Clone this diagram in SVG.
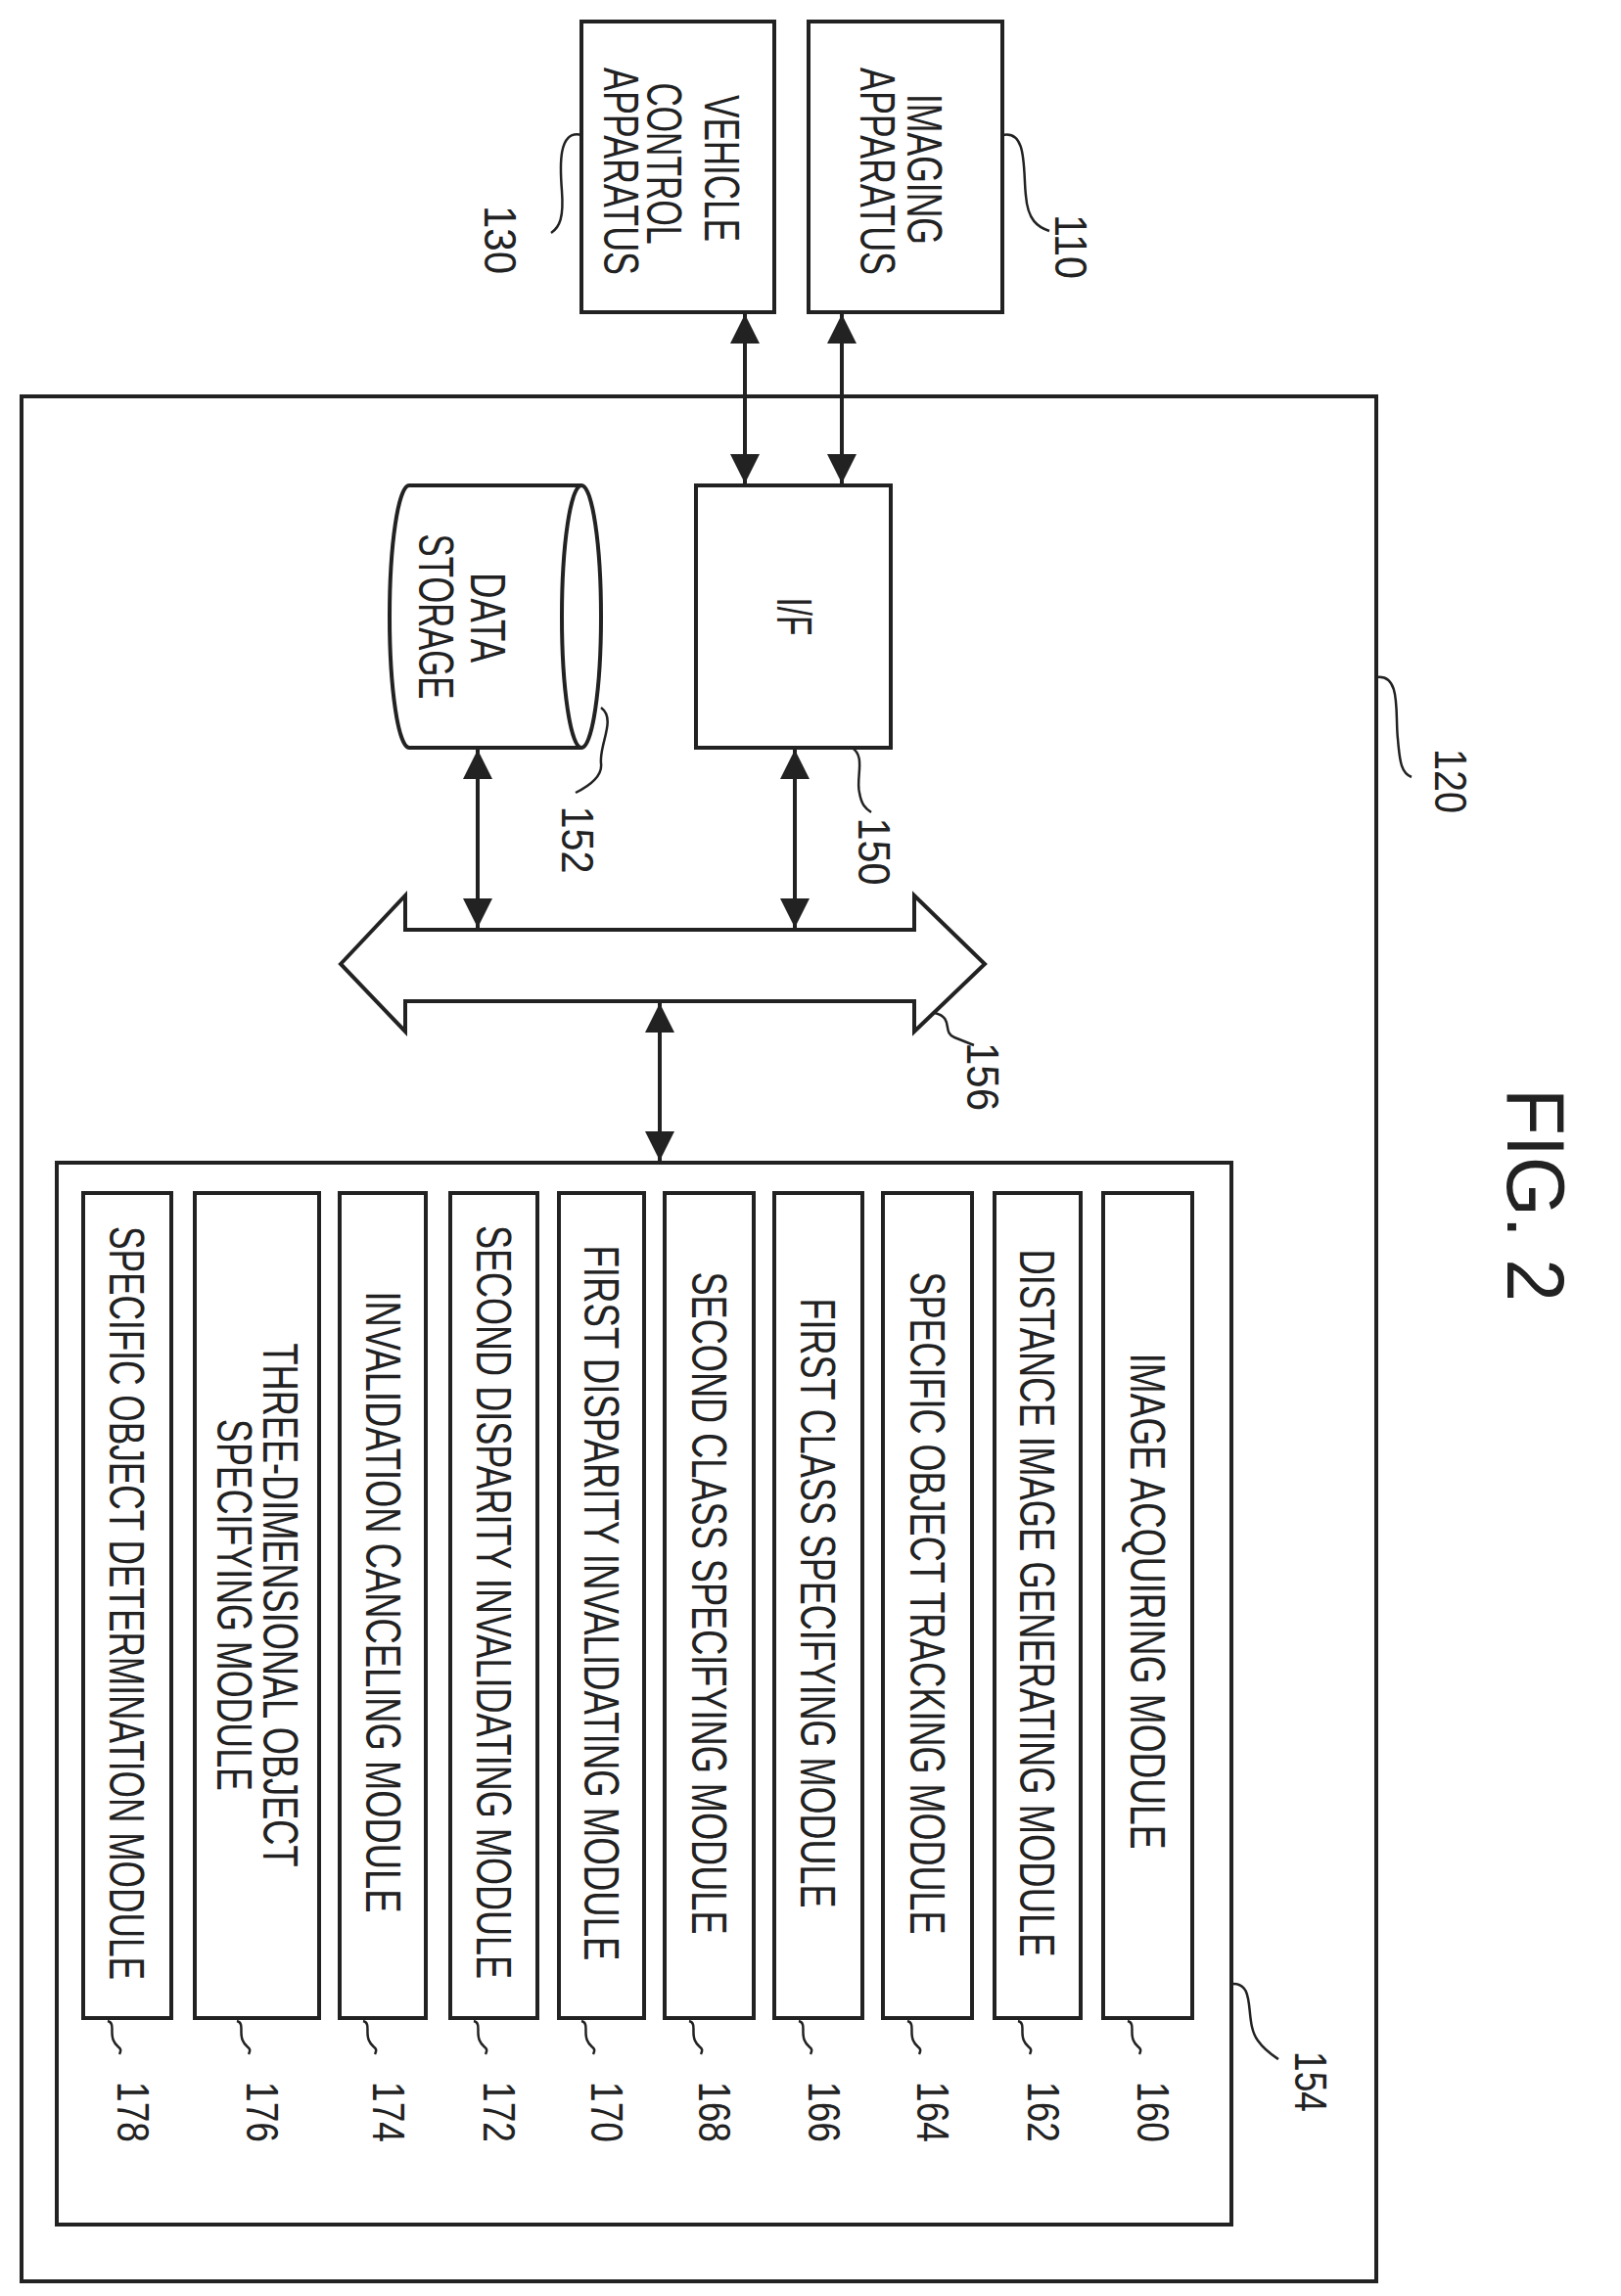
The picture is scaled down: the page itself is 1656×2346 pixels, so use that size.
<svg xmlns="http://www.w3.org/2000/svg" width="1656" height="2346" viewBox="0 0 1656 2346">
<style>
.b{fill:#fff;stroke:#222;stroke-width:4}
.c{fill:none;stroke:#222;stroke-width:4}
.l{fill:none;stroke:#222;stroke-width:2.5}
.t{font-family:"Liberation Sans",Arial,sans-serif;font-size:50px;fill:#222;text-anchor:middle}
.n{font-family:"Liberation Sans",Arial,sans-serif;font-size:46px;fill:#222;text-anchor:middle}
</style>
<defs>
<marker id="a" viewBox="0 0 10 10" refX="10" refY="5" markerWidth="30" markerHeight="30" orient="auto-start-reverse" markerUnits="userSpaceOnUse">
<path d="M0,0 L10,5 L0,10 z" fill="#222"/>
</marker>
</defs>
<rect width="1656" height="2346" fill="#fff"/>
<g id="n120"><rect class="b" x="22" y="405" width="1384" height="1926"/></g>
<g id="n110"><rect class="b" x="826" y="22" width="198" height="297"/>
<text class="t" transform="translate(927,173) rotate(90)" textLength="154" lengthAdjust="spacingAndGlyphs">IMAGING</text>
<text class="t" transform="translate(879,175) rotate(90)" textLength="212" lengthAdjust="spacingAndGlyphs">APPARATUS</text></g>
<g id="n130"><rect class="b" x="594" y="22" width="197" height="297"/>
<text class="t" transform="translate(720,172) rotate(90)" textLength="150" lengthAdjust="spacingAndGlyphs">VEHICLE</text>
<text class="t" transform="translate(661,167) rotate(90)" textLength="165" lengthAdjust="spacingAndGlyphs">CONTROL</text>
<text class="t" transform="translate(617,175) rotate(90)" textLength="212" lengthAdjust="spacingAndGlyphs">APPARATUS</text></g>
<g id="n150"><rect class="b" x="711" y="496" width="199" height="268"/>
<text class="t" transform="translate(794,630) rotate(90)" textLength="39" lengthAdjust="spacingAndGlyphs">I/F</text></g>
<g id="n152"><path class="b" d="M594,496 L418,496 A20,134 0 0 0 418,764 L594,764"/>
<ellipse class="b" cx="594" cy="630" rx="20" ry="134"/>
<text class="t" transform="translate(481,631) rotate(90)" textLength="92" lengthAdjust="spacingAndGlyphs">DATA</text>
<text class="t" transform="translate(428,630) rotate(90)" textLength="169" lengthAdjust="spacingAndGlyphs">STORAGE</text></g>
<g id="n156"><path class="b" d="M348,985 L414,915 L414,950 L934,950 L934,915 L1006,985 L934,1054 L934,1023 L414,1023 L414,1054 Z"/></g>
<g id="n154"><rect class="b" x="58" y="1188" width="1200" height="1085"/>
<rect class="b" x="1127" y="1219" width="91" height="843"/>
<text class="t" transform="translate(1155,1636) rotate(90)" textLength="507" lengthAdjust="spacingAndGlyphs">IMAGE ACQUIRING MODULE</text>
<rect class="b" x="1016" y="1219" width="88" height="843"/>
<text class="t" transform="translate(1042,1638) rotate(90)" textLength="723" lengthAdjust="spacingAndGlyphs">DISTANCE IMAGE GENERATING MODULE</text>
<rect class="b" x="902" y="1219" width="91" height="843"/>
<text class="t" transform="translate(930,1638) rotate(90)" textLength="677" lengthAdjust="spacingAndGlyphs">SPECIFIC OBJECT TRACKING MODULE</text>
<rect class="b" x="791" y="1219" width="90" height="843"/>
<text class="t" transform="translate(818,1638) rotate(90)" textLength="623" lengthAdjust="spacingAndGlyphs">FIRST CLASS SPECIFYING MODULE</text>
<rect class="b" x="679" y="1219" width="91" height="843"/>
<text class="t" transform="translate(707,1638) rotate(90)" textLength="677" lengthAdjust="spacingAndGlyphs">SECOND CLASS SPECIFYING MODULE</text>
<rect class="b" x="571" y="1219" width="87" height="843"/>
<text class="t" transform="translate(597,1638) rotate(90)" textLength="731" lengthAdjust="spacingAndGlyphs">FIRST DISPARITY INVALIDATING MODULE</text>
<rect class="b" x="460" y="1219" width="89" height="843"/>
<text class="t" transform="translate(487,1637) rotate(90)" textLength="770" lengthAdjust="spacingAndGlyphs">SECOND DISPARITY INVALIDATING MODULE</text>
<rect class="b" x="347" y="1219" width="88" height="843"/>
<text class="t" transform="translate(374,1637) rotate(90)" textLength="635" lengthAdjust="spacingAndGlyphs">INVALIDATION CANCELING MODULE</text>
<rect class="b" x="199" y="1219" width="127" height="843"/>
<text class="t" transform="translate(269,1640) rotate(90)" textLength="535" lengthAdjust="spacingAndGlyphs">THREE-DIMENSIONAL OBJECT</text>
<text class="t" transform="translate(222,1640) rotate(90)" textLength="380" lengthAdjust="spacingAndGlyphs">SPECIFYING MODULE</text>
<rect class="b" x="85" y="1219" width="90" height="843"/>
<text class="t" transform="translate(112,1638) rotate(90)" textLength="770" lengthAdjust="spacingAndGlyphs">SPECIFIC OBJECT DETERMINATION MODULE</text></g>
<g id="connectors">
<line class="c" x1="860" y1="321" x2="860" y2="494" marker-start="url(#a)" marker-end="url(#a)"/>
<line class="c" x1="761" y1="321" x2="761" y2="494" marker-start="url(#a)" marker-end="url(#a)"/>
<line class="c" x1="812" y1="766" x2="812" y2="948" marker-start="url(#a)" marker-end="url(#a)"/>
<line class="c" x1="488" y1="766" x2="488" y2="948" marker-start="url(#a)" marker-end="url(#a)"/>
<line class="c" x1="674" y1="1025" x2="674" y2="1186" marker-start="url(#a)" marker-end="url(#a)"/>
</g>
<g id="leaders">
<path class="l" d="M1024,138 C1050,132 1045,175 1048,200 C1050,225 1060,232 1072,236"/>
<path class="l" d="M594,138 C570,132 572,170 574,195 C576,222 572,232 563,238"/>
<path class="l" d="M1406,692 C1432,688 1425,730 1428,755 C1430,780 1432,790 1442,794"/>
<path class="l" d="M870,764 C885,772 874,795 878,810 C880,822 884,826 890,830"/>
<path class="l" d="M614,723 C630,735 612,760 614,780 C616,795 598,805 588,810"/>
<path class="l" d="M955,1035 C975,1040 962,1055 975,1060 C985,1064 990,1066 995,1068"/>
<path class="l" d="M1258,2027 C1285,2025 1270,2065 1285,2085 C1292,2095 1300,2100 1306,2104"/>
<path class="l" d="M1152,2065 c8,2 2,12 6,20 c3,8 10,6 6,14 M1040,2065 c8,2 2,12 6,20 c3,8 10,6 6,14 M927,2065 c8,2 2,12 6,20 c3,8 10,6 6,14 M816,2065 c8,2 2,12 6,20 c3,8 10,6 6,14 M704,2065 c8,2 2,12 6,20 c3,8 10,6 6,14 M594,2065 c8,2 2,12 6,20 c3,8 10,6 6,14 M484,2065 c8,2 2,12 6,20 c3,8 10,6 6,14 M371,2065 c8,2 2,12 6,20 c3,8 10,6 6,14 M242,2065 c8,2 2,12 6,20 c3,8 10,6 6,14 M110,2065 c8,2 2,12 6,20 c3,8 10,6 6,14"/>
</g>
<g id="labels">
<text class="n" transform="translate(1078,252) rotate(90)" textLength="66" lengthAdjust="spacingAndGlyphs">110</text>
<text class="n" transform="translate(495,245) rotate(90)" textLength="70" lengthAdjust="spacingAndGlyphs">130</text>
<text class="n" transform="translate(1466,798) rotate(90)" textLength="66" lengthAdjust="spacingAndGlyphs">120</text>
<text class="n" transform="translate(877,870) rotate(90)" textLength="69" lengthAdjust="spacingAndGlyphs">150</text>
<text class="n" transform="translate(574,858) rotate(90)" textLength="69" lengthAdjust="spacingAndGlyphs">152</text>
<text class="n" transform="translate(988,1100) rotate(90)" textLength="70" lengthAdjust="spacingAndGlyphs">156</text>
<text class="n" transform="translate(1323,2127) rotate(90)" textLength="62" lengthAdjust="spacingAndGlyphs">154</text>
<text class="n" transform="translate(1162,2158) rotate(90)" textLength="62" lengthAdjust="spacingAndGlyphs">160</text>
<text class="n" transform="translate(1050,2158) rotate(90)" textLength="62" lengthAdjust="spacingAndGlyphs">162</text>
<text class="n" transform="translate(937,2158) rotate(90)" textLength="62" lengthAdjust="spacingAndGlyphs">164</text>
<text class="n" transform="translate(826,2158) rotate(90)" textLength="62" lengthAdjust="spacingAndGlyphs">166</text>
<text class="n" transform="translate(714,2158) rotate(90)" textLength="62" lengthAdjust="spacingAndGlyphs">168</text>
<text class="n" transform="translate(604,2158) rotate(90)" textLength="62" lengthAdjust="spacingAndGlyphs">170</text>
<text class="n" transform="translate(494,2158) rotate(90)" textLength="62" lengthAdjust="spacingAndGlyphs">172</text>
<text class="n" transform="translate(381,2158) rotate(90)" textLength="62" lengthAdjust="spacingAndGlyphs">174</text>
<text class="n" transform="translate(252,2158) rotate(90)" textLength="62" lengthAdjust="spacingAndGlyphs">176</text>
<text class="n" transform="translate(120,2158) rotate(90)" textLength="62" lengthAdjust="spacingAndGlyphs">178</text>
<text class="n" style="font-size:84px" transform="translate(1540,1221) rotate(90)" textLength="218" lengthAdjust="spacingAndGlyphs">FIG. 2</text>
</g>
</svg>
